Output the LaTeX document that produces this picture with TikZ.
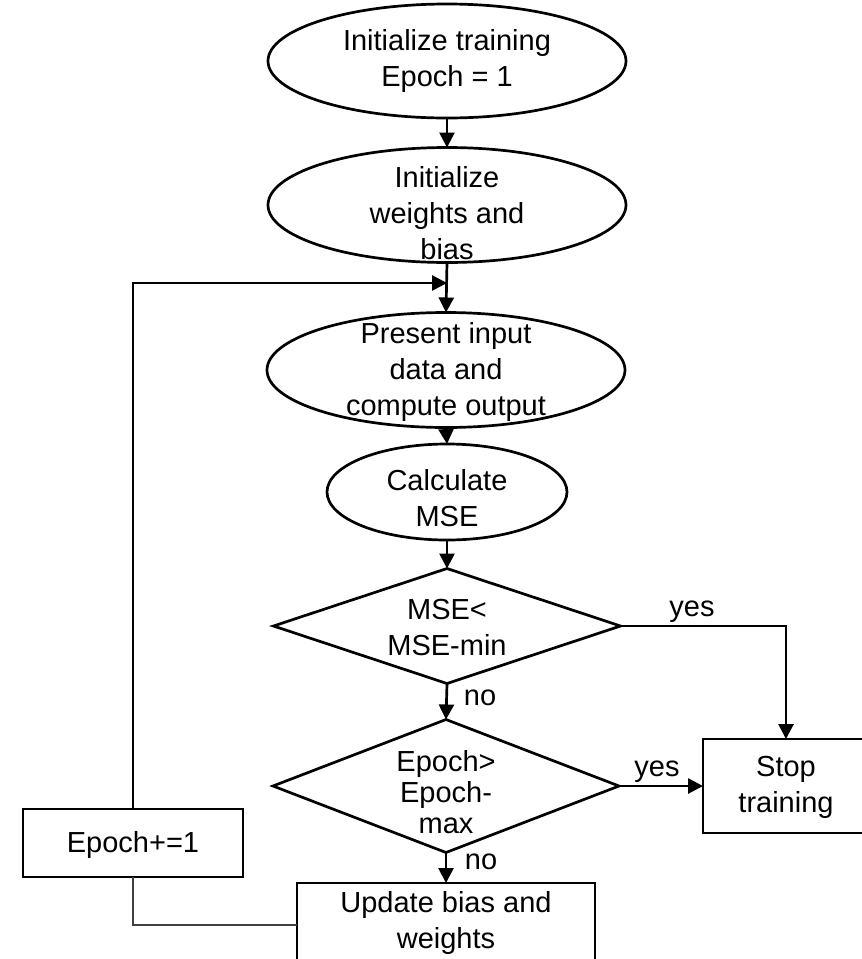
\documentclass[tikz,border=0pt]{standalone}
\usepackage{fontspec}
\setmainfont{Liberation Sans}
\usetikzlibrary{shapes.geometric,arrows.meta}
\begin{document}
\begin{tikzpicture}[x=1pt,y=-1pt,
  shp/.style={draw=black,line width=2.7pt,inner sep=0pt,outer sep=0pt},
  ell/.style={shp,ellipse},
  dia/.style={shp,diamond},
  boxr/.style={shp,rectangle},
  txt/.style={font=\fontsize{29}{36}\selectfont,align=center,inner sep=0pt},
  lbl/.style={font=\fontsize{29}{36}\selectfont,inner sep=0pt},
  arr/.style={line width=2.7pt,-{Triangle[length=15pt,width=15pt]}},
  thin/.style={line width=1.1pt,draw=black!75}]
\useasboundingbox (0,0) rectangle (862,959);
\clip (0,0) rectangle (862,959);

% shapes
\node[ell,minimum width=358,minimum height=114] (e1) at (447,61) {};
\node[ell,minimum width=358,minimum height=115] (e2) at (447,205) {};
\node[ell,minimum width=358,minimum height=115] (e3) at (446,370) {};
\node[ell,minimum width=240,minimum height=96] (e4) at (447,492) {};
\node[dia,minimum width=347,minimum height=115] (d1) at (447,626) {};
\node[dia,minimum width=346,minimum height=133] (d2) at (446,786) {};
\node[boxr,minimum width=166,minimum height=94] (stop) at (786,786) {};
\node[boxr,minimum width=220,minimum height=68] (inc) at (133,843) {};
\node[boxr,minimum width=298,minimum height=84] (upd) at (446,925) {};

% texts
\node[txt] (t1) at (447,61) {Initialize training\\Epoch = 1};
\node[txt] (t2) at (447,213) {Initialize\\weights and\\bias};
\node[txt] (t3) at (446,372) {Present input\\data and\\compute output};
\node[txt] (t4) at (447,498) {Calculate\\MSE};
\node[txt] (t5) at (447,628) {MSE\textless\\MSE-min};
\node[txt,font=\fontsize{29}{31}\selectfont] (t6) at (446,792) {Epoch\textgreater\\Epoch-\\max};
\node[txt] (t7) at (786,787) {Stop\\training};
\node[txt] (t8) at (133,845) {Epoch+=1};
\node[txt] (t9) at (446,923) {Update bias and\\weights};

% labels
\node[lbl] (y1) at (692,612) {yes};
\node[lbl] (y2) at (657,772) {yes};
\node[lbl] (n1) at (480,698) {no};
\node[lbl] (n2) at (481,862) {no};

% connectors
\coordinate (j) at (447,283);
\draw[arr] (e1.south) -- (e2.north);
\draw[arr] (e2.south) -- (e3.north);
\draw[arr] (inc.north) |- (j);
\draw[arr] (e3.south) -- (e4.north);
\draw[arr] (e4.south) -- (d1.north);
\draw[arr] (d1.east) -| (stop.north);
\draw[arr] (d1.south) -- (d2.north);
\draw[arr] (d2.east) -- (stop.west);
\draw[arr] (d2.south) -- (upd.north);
\draw[thin] (inc.south) |- (upd.west);
\end{tikzpicture}
\end{document}
